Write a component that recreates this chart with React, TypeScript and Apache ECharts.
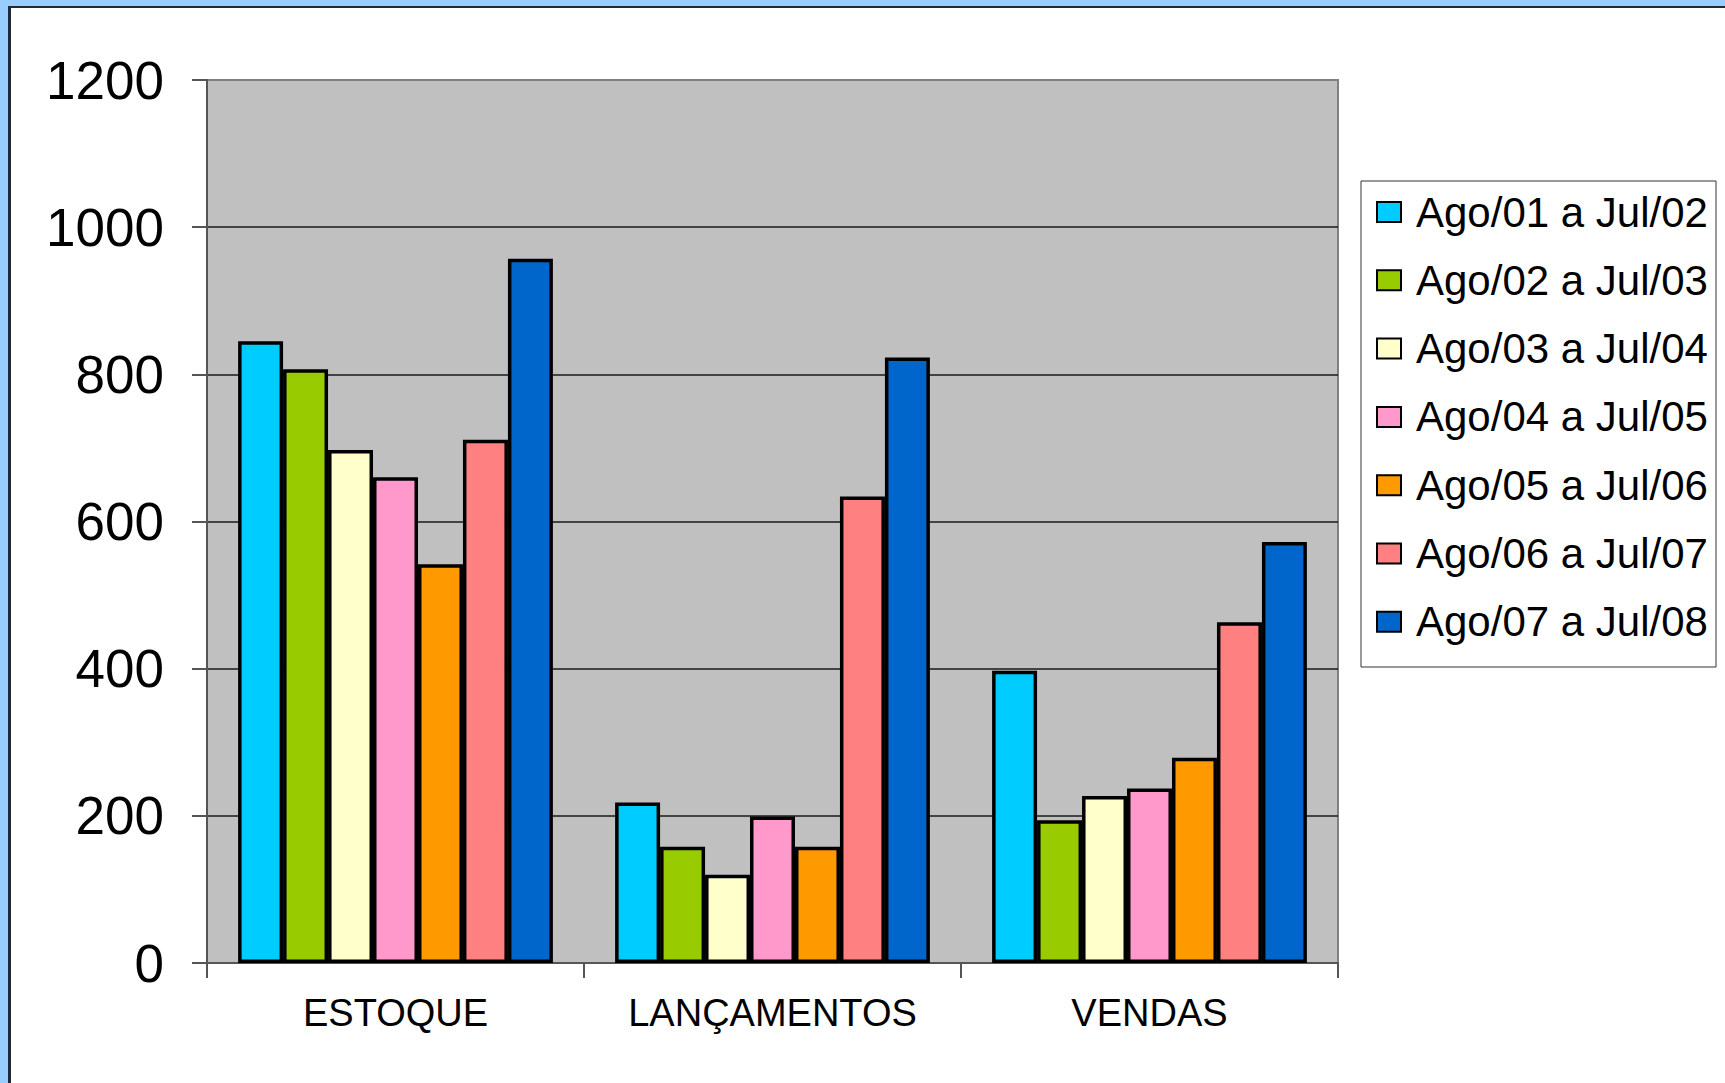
import React, { useEffect, useRef } from "react";
import * as echarts from "echarts";

// Categories on the x axis
const categories = ["ESTOQUE", "LANÇAMENTOS", "VENDAS"];

// One series per twelve-month period
const periods = [
  "Ago/01 a Jul/02",
  "Ago/02 a Jul/03",
  "Ago/03 a Jul/04",
  "Ago/04 a Jul/05",
  "Ago/05 a Jul/06",
  "Ago/06 a Jul/07",
  "Ago/07 a Jul/08",
];

const periodColors = ["#00CCFF", "#99CC00", "#FFFFCC", "#FF99CC", "#FF9900", "#FF8080", "#0066CC"];

// Values per period: [ESTOQUE, LANÇAMENTOS, VENDAS]
const ago01 = [845, 218, 397];
const ago02 = [807, 158, 194];
const ago03 = [697, 120, 227];
const ago04 = [660, 199, 237];
const ago05 = [542, 158, 279];
const ago06 = [711, 634, 463];
const ago07 = [957, 823, 572];

const seriesValues = [ago01, ago02, ago03, ago04, ago05, ago06, ago07];

const FONT = "'Liberation Sans', Arial, sans-serif";

export default function App() {
  const ref = useRef<HTMLDivElement>(null);

  useEffect(() => {
    if (!ref.current) return;
    const chart = echarts.init(ref.current, undefined, { renderer: "svg" });
    chart.setOption({
      animation: false,
      textStyle: { fontFamily: FONT },
      grid: {
        left: 207,
        top: 80,
        width: 1131,
        height: 883,
        show: true,
        backgroundColor: "#C0C0C0",
        borderColor: "#808080",
        borderWidth: 2,
      },
      legend: {
        orient: "vertical",
        left: 1376,
        top: 191,
        padding: 0,
        itemWidth: 24,
        itemHeight: 20,
        itemGap: 26.3,
        icon: "rect",
        itemStyle: { borderColor: "#000", borderWidth: 2 },
        textStyle: {
          fontFamily: FONT,
          fontSize: 42,
          lineHeight: 40,
          color: "#000",
          padding: [0, 0, 0, 10],
        },
        data: periods,
      },
      graphic: [
        {
          type: "rect",
          shape: { x: 1361, y: 181, width: 355, height: 486 },
          style: { fill: "#fff", stroke: "#333", lineWidth: 1 },
          z: -1,
        },
      ],
      xAxis: {
        type: "category",
        data: categories,
        axisLine: { show: true, lineStyle: { color: "#555", width: 2 } },
        axisTick: { show: true, length: 15, lineStyle: { color: "#555", width: 2 } },
        axisLabel: {
          fontFamily: FONT,
          fontSize: 38,
          color: "#000",
          margin: 31,
        },
        splitLine: { show: false },
      },
      yAxis: {
        type: "value",
        min: 0,
        max: 1200,
        interval: 200,
        axisLine: { show: true, lineStyle: { color: "#555", width: 2 } },
        axisTick: { show: true, length: 15, lineStyle: { color: "#555", width: 2 } },
        axisLabel: {
          fontFamily: FONT,
          fontSize: 53,
          color: "#000",
          margin: 43,
          formatter: (v: number) => String(v),
        },
        splitLine: {
          show: true,
          lineStyle: {
            color: ["#555", "#1a1a1a", "#1a1a1a", "#1a1a1a", "#1a1a1a", "#1a1a1a", "#808080"],
            width: 1.5,
          },
        },
      },
      series: periods.map((name, i) => ({
        name,
        type: "bar",
        data: seriesValues[i],
        barGap: "0%",
        barCategoryGap: "16.5%",
        itemStyle: {
          color: periodColors[i],
          borderColor: "#000",
          borderWidth: 3.5,
        },
      })),
    });
    return () => chart.dispose();
  }, []);

  return (
    <div
      style={{
        position: "fixed",
        left: 0,
        top: 0,
        width: 1725,
        height: 1083,
        background: "#99CCFF",
        overflow: "hidden",
      }}
    >
      <div
        style={{
          position: "absolute",
          left: 8,
          top: 6,
          width: 1800,
          height: 1200,
          background: "#fff",
          borderTop: "2px solid #1f2a38",
          borderLeft: "3px solid #1f2a38",
        }}
      />
      <div ref={ref} style={{ position: "absolute", left: 0, top: 0, width: 1725, height: 1083 }} />
    </div>
  );
}
